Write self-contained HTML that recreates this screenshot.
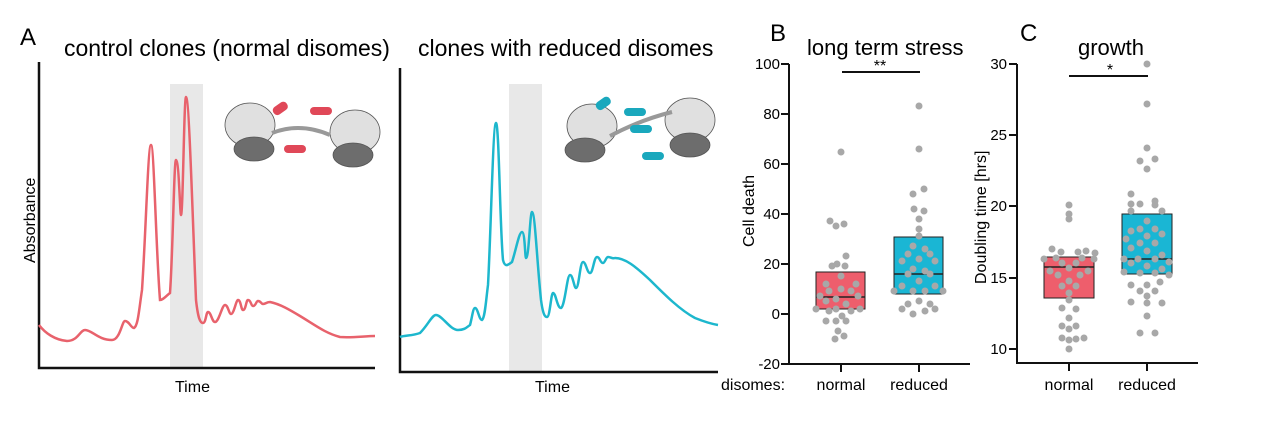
<!DOCTYPE html>
<html><head><meta charset="utf-8"><style>
html,body{margin:0;padding:0;background:#fff;}
svg{display:block;font-family:"Liberation Sans",Arial,sans-serif;}
</style></head><body>
<svg width="1280" height="442" viewBox="0 0 1280 442" xmlns="http://www.w3.org/2000/svg">
<rect width="1280" height="442" fill="#fff"/>
<!-- Panel A -->
<text x="20" y="45" font-size="24">A</text>
<text x="64" y="56" font-size="23">control clones (normal disomes)</text>
<text x="418" y="56" font-size="23">clones with reduced disomes</text>
<rect x="170" y="84" width="33" height="284" fill="#e8e8e8"/>
<rect x="509" y="84" width="33" height="288" fill="#e8e8e8"/>
<path d="M39,62 V368 H375" fill="none" stroke="#111" stroke-width="2.5"/>
<path d="M400,68 V372 H718" fill="none" stroke="#111" stroke-width="2.5"/>
<text transform="translate(35,263) rotate(-90)" font-size="16">Absorbance</text>
<text x="175" y="392" font-size="16">Time</text>
<text x="535" y="392" font-size="16">Time</text>
<path d="M39,325 C45,333 55,340 67,341 C78,341 80,330 85,330 C92,330 98,340 112,340 C120,340 122,321 125,321 C129,321 131,328 134,328 C138,326 139,310 142,290 C146,230 148,145 151,145 C154,145 156,250 160,300 C163,300 166,296 170,293 C173,250 174,160 176,160 C179,160 180,215 181,215 C183,215 184,97 186,97 C189,97 192,200 196,300 C198,318 200,323 203,323 C206,323 206,312 208,312 C211,312 212,322 215,322 C219,322 222,305 225,305 C228,305 229,314 231,314 C234,314 236,300 238,300 C241,300 241,310 243,310 C246,310 246,300 248,300 C251,300 251,306 253,306 C256,306 256,301 258,301 C261,301 261,304 263,304 C266,304 266,302 270,302 C280,304 290,310 300,316 C315,325 325,333 340,337 C352,338 365,336 375,336" fill="none" stroke="#e8626c" stroke-width="2.5"/>
<path d="M400,337 C405,335 412,336 420,333 C428,325 432,315 436,315 C442,315 450,330 458,330 C465,330 467,327 470,325 C472,318 473,308 475,308 C478,308 479,320 482,320 C485,318 486,300 488,285 C491,230 493,123 496,123 C499,123 500,230 503,260 C505,268 508,265 512,262 C516,250 519,232 522,232 C525,232 525,258 526,258 C529,258 530,212 532,212 C535,212 537,262 541,300 C543,315 545,317 547,317 C550,317 551,293 553,293 C556,293 557,308 561,308 C565,306 567,275 570,275 C573,275 574,288 576,288 C579,288 580,262 583,262 C586,262 587,273 590,273 C593,273 594,257 597,257 C600,257 600,263 603,263 C605,263 606,257 608,257 C611,257 612,259 615,258 C625,258 635,266 650,280 C665,295 680,310 695,318 C705,322 712,324 718,325" fill="none" stroke="#1db7cd" stroke-width="2.5"/>
<!-- ribosome illustrations (approx) -->
<g stroke="#555" stroke-width="0.8">
<ellipse cx="250" cy="125" rx="25" ry="22" fill="#e0e0e0"/>
<ellipse cx="254" cy="149" rx="20" ry="12" fill="#6d6d6d"/>
<ellipse cx="355" cy="132" rx="25" ry="22" fill="#e0e0e0"/>
<ellipse cx="353" cy="155" rx="20" ry="12" fill="#6d6d6d"/>
<path d="M272,133 Q300,122 330,135" fill="none" stroke="#999" stroke-width="4"/>
<ellipse cx="592" cy="126" rx="25" ry="22" fill="#e0e0e0"/>
<ellipse cx="585" cy="150" rx="20" ry="12" fill="#6d6d6d"/>
<ellipse cx="690" cy="120" rx="25" ry="22" fill="#e0e0e0"/>
<ellipse cx="690" cy="145" rx="20" ry="12" fill="#6d6d6d"/>
<path d="M610,136 Q640,120 672,112" fill="none" stroke="#999" stroke-width="4"/>
</g>
<g fill="#e04858">
<rect x="272" y="104" width="16" height="9" rx="4" transform="rotate(-35 280 108)"/>
<rect x="310" y="107" width="22" height="8" rx="4"/>
<rect x="284" y="145" width="22" height="8" rx="4"/>
</g>
<g fill="#1aa8bd">
<rect x="595" y="99" width="16" height="9" rx="4" transform="rotate(-35 603 103)"/>
<rect x="624" y="108" width="22" height="8" rx="4"/>
<rect x="630" y="125" width="22" height="8" rx="4"/>
<rect x="642" y="152" width="22" height="8" rx="4"/>
</g>
<!-- Panel B -->
<text x="770" y="41" font-size="24">B</text>
<text x="807" y="55" font-size="22">long term stress</text>
<path d="M789,64 V364 H970" fill="none" stroke="#111" stroke-width="2"/>
<g stroke="#111" stroke-width="2"><line x1="781" y1="64" x2="789" y2="64"/><line x1="781" y1="114" x2="789" y2="114"/><line x1="781" y1="164" x2="789" y2="164"/><line x1="781" y1="214" x2="789" y2="214"/><line x1="781" y1="264" x2="789" y2="264"/><line x1="781" y1="314" x2="789" y2="314"/><line x1="781" y1="364" x2="789" y2="364"/><line x1="841" y1="364" x2="841" y2="372"/><line x1="919" y1="364" x2="919" y2="372"/></g>
<g font-size="15" text-anchor="end"><text x="780" y="69">100</text><text x="780" y="119">80</text><text x="780" y="169">60</text><text x="780" y="219">40</text><text x="780" y="269">20</text><text x="780" y="319">0</text><text x="780" y="369">-20</text></g>
<text transform="translate(754,247) rotate(-90)" font-size="16">Cell death</text>
<text x="721" y="390" font-size="16">disomes:</text>
<text x="841" y="390" font-size="16" text-anchor="middle">normal</text>
<text x="919" y="390" font-size="16" text-anchor="middle">reduced</text>
<line x1="842" y1="72" x2="920" y2="72" stroke="#111" stroke-width="2"/>
<text x="880" y="71" font-size="16" text-anchor="middle">**</text>
<rect x="816" y="272" width="49" height="37" fill="#ee5e6c" stroke="#222" stroke-width="1"/>
<line x1="816" y1="297" x2="865" y2="297" stroke="#222" stroke-width="1.5"/>
<rect x="894" y="237" width="49" height="57" fill="#1ab6d4" stroke="#222" stroke-width="1"/>
<line x1="894" y1="274" x2="943" y2="274" stroke="#222" stroke-width="1.5"/>
<g fill="#a8a8a8">
<circle cx="841" cy="152" r="3.5"/><circle cx="830" cy="221" r="3.5"/><circle cx="836" cy="226" r="3.5"/><circle cx="844" cy="224" r="3.5"/><circle cx="846" cy="256" r="3.5"/><circle cx="837" cy="264" r="3.5"/><circle cx="832" cy="266" r="3.5"/><circle cx="845" cy="266" r="3.5"/><circle cx="841" cy="276" r="3.5"/><circle cx="826" cy="284" r="3.5"/><circle cx="856" cy="284" r="3.5"/><circle cx="841" cy="289" r="3.5"/><circle cx="829" cy="291" r="3.5"/><circle cx="851" cy="291" r="3.5"/><circle cx="820" cy="296" r="3.5"/><circle cx="836" cy="299" r="3.5"/><circle cx="858" cy="296" r="3.5"/><circle cx="826" cy="301" r="3.5"/><circle cx="846" cy="304" r="3.5"/><circle cx="816" cy="309" r="3.5"/><circle cx="836" cy="309" r="3.5"/><circle cx="860" cy="309" r="3.5"/><circle cx="829" cy="311" r="3.5"/><circle cx="851" cy="311" r="3.5"/><circle cx="842" cy="316" r="3.5"/><circle cx="826" cy="321" r="3.5"/><circle cx="836" cy="321" r="3.5"/><circle cx="846" cy="321" r="3.5"/><circle cx="838" cy="331" r="3.5"/><circle cx="835" cy="339" r="3.5"/><circle cx="844" cy="336" r="3.5"/>
<circle cx="919" cy="106" r="3.5"/><circle cx="919" cy="149" r="3.5"/><circle cx="913" cy="194" r="3.5"/><circle cx="924" cy="189" r="3.5"/><circle cx="914" cy="209" r="3.5"/><circle cx="924" cy="211" r="3.5"/><circle cx="919" cy="219" r="3.5"/><circle cx="919" cy="229" r="3.5"/><circle cx="919" cy="236" r="3.5"/><circle cx="913" cy="246" r="3.5"/><circle cx="925" cy="249" r="3.5"/><circle cx="908" cy="254" r="3.5"/><circle cx="930" cy="254" r="3.5"/><circle cx="919" cy="259" r="3.5"/><circle cx="902" cy="261" r="3.5"/><circle cx="935" cy="261" r="3.5"/><circle cx="913" cy="269" r="3.5"/><circle cx="925" cy="271" r="3.5"/><circle cx="908" cy="274" r="3.5"/><circle cx="930" cy="274" r="3.5"/><circle cx="919" cy="281" r="3.5"/><circle cx="902" cy="286" r="3.5"/><circle cx="935" cy="286" r="3.5"/><circle cx="894" cy="291" r="3.5"/><circle cx="943" cy="291" r="3.5"/><circle cx="913" cy="291" r="3.5"/><circle cx="925" cy="291" r="3.5"/><circle cx="919" cy="301" r="3.5"/><circle cx="908" cy="304" r="3.5"/><circle cx="930" cy="304" r="3.5"/><circle cx="902" cy="309" r="3.5"/><circle cx="935" cy="309" r="3.5"/><circle cx="913" cy="314" r="3.5"/><circle cx="925" cy="311" r="3.5"/>
</g>
<!-- Panel C -->
<text x="1020" y="41" font-size="24">C</text>
<text x="1078" y="55" font-size="22">growth</text>
<path d="M1017,64 V363 H1198" fill="none" stroke="#111" stroke-width="2"/>
<g stroke="#111" stroke-width="2"><line x1="1009" y1="64" x2="1017" y2="64"/><line x1="1009" y1="135" x2="1017" y2="135"/><line x1="1009" y1="206" x2="1017" y2="206"/><line x1="1009" y1="278" x2="1017" y2="278"/><line x1="1009" y1="349" x2="1017" y2="349"/><line x1="1069" y1="363" x2="1069" y2="371"/><line x1="1147" y1="363" x2="1147" y2="371"/></g>
<g font-size="15" text-anchor="end"><text x="1007" y="69">30</text><text x="1007" y="140">25</text><text x="1007" y="211">20</text><text x="1007" y="283">15</text><text x="1007" y="354">10</text></g>
<text transform="translate(986,284) rotate(-90)" font-size="16">Doubling time [hrs]</text>
<text x="1069" y="390" font-size="16" text-anchor="middle">normal</text>
<text x="1147" y="390" font-size="16" text-anchor="middle">reduced</text>
<line x1="1069" y1="76" x2="1148" y2="76" stroke="#111" stroke-width="2"/>
<text x="1110" y="75" font-size="16" text-anchor="middle">*</text>
<rect x="1044" y="257" width="50" height="41" fill="#ee5e6c" stroke="#222" stroke-width="1"/>
<line x1="1044" y1="267" x2="1094" y2="267" stroke="#222" stroke-width="1.5"/>
<rect x="1122" y="214" width="50" height="60" fill="#1ab6d4" stroke="#222" stroke-width="1"/>
<line x1="1122" y1="259" x2="1172" y2="259" stroke="#222" stroke-width="1.5"/>
<g fill="#a8a8a8">
<circle cx="1069" cy="205" r="3.5"/><circle cx="1069" cy="214" r="3.5"/><circle cx="1069" cy="219" r="3.5"/><circle cx="1052" cy="249" r="3.5"/><circle cx="1061" cy="252" r="3.5"/><circle cx="1078" cy="252" r="3.5"/><circle cx="1086" cy="251" r="3.5"/><circle cx="1095" cy="253" r="3.5"/><circle cx="1044" cy="259" r="3.5"/><circle cx="1056" cy="258" r="3.5"/><circle cx="1082" cy="258" r="3.5"/><circle cx="1094" cy="259" r="3.5"/><circle cx="1062" cy="263" r="3.5"/><circle cx="1076" cy="263" r="3.5"/><circle cx="1050" cy="271" r="3.5"/><circle cx="1069" cy="268" r="3.5"/><circle cx="1088" cy="271" r="3.5"/><circle cx="1058" cy="275" r="3.5"/><circle cx="1080" cy="275" r="3.5"/><circle cx="1069" cy="281" r="3.5"/><circle cx="1062" cy="286" r="3.5"/><circle cx="1076" cy="286" r="3.5"/><circle cx="1069" cy="293" r="3.5"/><circle cx="1069" cy="300" r="3.5"/><circle cx="1062" cy="308" r="3.5"/><circle cx="1076" cy="309" r="3.5"/><circle cx="1069" cy="318" r="3.5"/><circle cx="1062" cy="326" r="3.5"/><circle cx="1076" cy="326" r="3.5"/><circle cx="1069" cy="329" r="3.5"/><circle cx="1062" cy="338" r="3.5"/><circle cx="1076" cy="339" r="3.5"/><circle cx="1084" cy="338" r="3.5"/><circle cx="1069" cy="340" r="3.5"/><circle cx="1069" cy="349" r="3.5"/>
<circle cx="1147" cy="64" r="3.5"/><circle cx="1147" cy="104" r="3.5"/><circle cx="1147" cy="148" r="3.5"/><circle cx="1140" cy="161" r="3.5"/><circle cx="1155" cy="159" r="3.5"/><circle cx="1147" cy="169" r="3.5"/><circle cx="1131" cy="194" r="3.5"/><circle cx="1155" cy="201" r="3.5"/><circle cx="1131" cy="204" r="3.5"/><circle cx="1140" cy="204" r="3.5"/><circle cx="1155" cy="205" r="3.5"/><circle cx="1162" cy="211" r="3.5"/><circle cx="1131" cy="211" r="3.5"/><circle cx="1147" cy="221" r="3.5"/><circle cx="1140" cy="229" r="3.5"/><circle cx="1155" cy="229" r="3.5"/><circle cx="1131" cy="231" r="3.5"/><circle cx="1162" cy="234" r="3.5"/><circle cx="1147" cy="236" r="3.5"/><circle cx="1126" cy="239" r="3.5"/><circle cx="1140" cy="243" r="3.5"/><circle cx="1155" cy="243" r="3.5"/><circle cx="1131" cy="248" r="3.5"/><circle cx="1147" cy="251" r="3.5"/><circle cx="1162" cy="255" r="3.5"/><circle cx="1124" cy="259" r="3.5"/><circle cx="1138" cy="259" r="3.5"/><circle cx="1155" cy="259" r="3.5"/><circle cx="1169" cy="262" r="3.5"/><circle cx="1131" cy="263" r="3.5"/><circle cx="1147" cy="266" r="3.5"/><circle cx="1162" cy="269" r="3.5"/><circle cx="1124" cy="272" r="3.5"/><circle cx="1140" cy="273" r="3.5"/><circle cx="1155" cy="273" r="3.5"/><circle cx="1169" cy="275" r="3.5"/><circle cx="1160" cy="282" r="3.5"/><circle cx="1131" cy="285" r="3.5"/><circle cx="1147" cy="285" r="3.5"/><circle cx="1140" cy="291" r="3.5"/><circle cx="1155" cy="291" r="3.5"/><circle cx="1147" cy="296" r="3.5"/><circle cx="1131" cy="302" r="3.5"/><circle cx="1147" cy="303" r="3.5"/><circle cx="1162" cy="303" r="3.5"/><circle cx="1147" cy="316" r="3.5"/><circle cx="1140" cy="333" r="3.5"/><circle cx="1155" cy="333" r="3.5"/>
</g>
</svg>
</body></html>
